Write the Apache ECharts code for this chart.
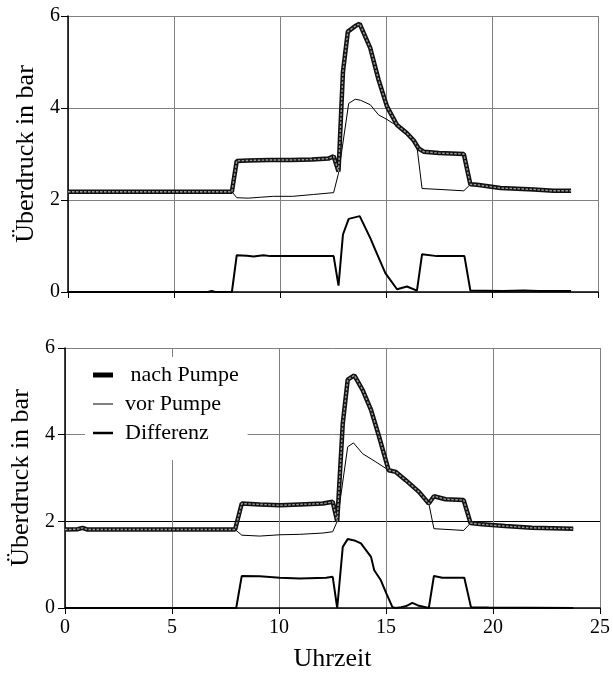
<!DOCTYPE html>
<html>
<head>
<meta charset="utf-8">
<script src="https://cdn.jsdelivr.net/npm/echarts@6/dist/echarts.min.js"></script>
<style>html,body{margin:0;padding:0;background:#fff}#c{width:613px;height:673px}</style>
</head>
<body>
<div id="c"></div>
<script>
// ---- data (time in h, pressure in bar) ----
const xTicks = [0, 5, 10, 15, 20, 25];
const yTicks = [0, 2, 4, 6];
const seriesNames = ['nach Pumpe', 'vor Pumpe', 'Differenz'];

const topNach = [[0,2.18],[7.73,2.18],[7.96,2.85],[8.5,2.86],[9.5,2.87],[10.5,2.87],[11.5,2.88],[12.28,2.9],[12.53,2.95],[12.76,2.62],[12.97,4.79],[13.2,5.66],[13.55,5.78],[13.76,5.83],[14.26,5.3],[14.65,4.61],[15.05,4.03],[15.52,3.63],[15.99,3.45],[16.3,3.3],[16.54,3.12],[16.78,3.05],[17.5,3.02],[18.67,3.0],[18.98,2.34],[19.3,2.33],[20.4,2.26],[21.97,2.23],[22.9,2.2],[23.73,2.2]];
const topVor = [[0,2.18],[7.73,2.18],[7.96,2.05],[8.5,2.04],[9.07,2.06],[9.7,2.08],[10.6,2.08],[11.58,2.12],[12.53,2.16],[12.76,2.58],[13.24,4.1],[13.55,4.19],[13.79,4.17],[14.26,4.07],[14.65,3.85],[15.05,3.75],[15.52,3.61],[15.99,3.45],[16.46,3.16],[16.7,2.25],[17.5,2.23],[18.67,2.2],[18.98,2.34],[19.3,2.33],[20.4,2.26],[21.97,2.23],[22.9,2.2],[23.73,2.2]];
const topDiff = [[0,0],[6.6,0],[6.78,0.02],[6.95,0],[7.73,0],[7.96,0.8],[8.44,0.79],[8.75,0.77],[9.22,0.8],[9.54,0.78],[12.53,0.78],[12.76,0.14],[12.97,1.25],[13.24,1.59],[13.76,1.65],[14.26,1.17],[14.5,0.91],[14.97,0.41],[15.52,0.06],[15.99,0.12],[16.46,0.03],[16.7,0.82],[17.4,0.78],[18.7,0.78],[18.98,0.03],[20.5,0.02],[21.5,0.03],[22.2,0.02],[23.73,0.02]];

const botNach = [[0,1.81],[0.6,1.82],[0.82,1.85],[1.05,1.81],[7.95,1.81],[8.26,2.41],[9.1,2.39],[10.04,2.37],[10.97,2.39],[12.05,2.41],[12.51,2.45],[12.72,2.0],[12.98,4.26],[13.21,5.27],[13.52,5.37],[13.91,5.03],[14.3,4.57],[14.68,3.95],[15.12,3.18],[15.46,3.14],[15.92,2.95],[16.54,2.68],[17.0,2.41],[17.24,2.58],[17.78,2.51],[18.63,2.49],[18.95,1.96],[19.48,1.93],[20.57,1.89],[21.81,1.85],[23.75,1.83]];
const botVor = [[0,1.81],[0.6,1.82],[0.82,1.85],[1.05,1.81],[7.95,1.81],[8.26,1.68],[9.1,1.66],[10.04,1.69],[10.97,1.7],[12.05,1.73],[12.51,1.76],[12.72,2.0],[13.21,3.72],[13.48,3.81],[13.91,3.56],[14.53,3.37],[15.12,3.18],[15.46,3.14],[15.92,2.95],[16.54,2.68],[17.0,2.41],[17.24,1.83],[18.63,1.79],[18.95,1.96],[19.48,1.93],[20.57,1.89],[21.81,1.85],[23.75,1.83]];
const botDiff = [[0,0],[8.0,0],[8.26,0.74],[9.1,0.73],[10.04,0.7],[10.97,0.68],[12.2,0.7],[12.51,0.72],[12.72,0],[12.98,1.41],[13.21,1.59],[13.52,1.56],[13.83,1.49],[14.3,1.18],[14.45,0.87],[14.76,0.64],[15.02,0.33],[15.3,0.02],[15.46,0],[15.7,0.02],[15.92,0.04],[16.23,0.12],[16.54,0.05],[17.0,0],[17.24,0.74],[17.63,0.7],[18.66,0.7],[18.97,0.02],[19.8,0.01],[23.75,0]];

const FONT = "'Liberation Serif', 'Times New Roman', serif";
const GRIDC = '#808080';

function xAxisCfg(idx, showLabels) {
  return {
    type: 'value', gridIndex: idx, min: xTicks[0], max: xTicks[xTicks.length-1], interval: 5,
    axisLine: { show: true, onZero: false, lineStyle: { color: '#000', width: 1.5 } },
    axisTick: { show: true, inside: false, length: 6, lineStyle: { color: '#000' } },
    axisLabel: { show: showLabels, margin: 10, color: '#000', fontFamily: FONT, fontSize: 20 },
    splitLine: { show: true, lineStyle: { color: GRIDC, width: 1 } },
    name: showLabels ? 'Uhrzeit' : '', nameLocation: 'middle', nameGap: 38,
    nameTextStyle: { color: '#000', fontFamily: FONT, fontSize: 26 }
  };
}
function yAxisCfg(idx, margin, splitColors) {
  return {
    type: 'value', gridIndex: idx, min: yTicks[0], max: yTicks[yTicks.length-1], interval: 2,
    axisLine: { show: true, lineStyle: { color: '#000', width: 1.5 } },
    axisTick: { show: true, inside: false, length: 7, lineStyle: { color: '#000' } },
    axisLabel: { margin: margin, color: '#000', fontFamily: FONT, fontSize: 20 },
    splitLine: { show: true, lineStyle: { color: splitColors, width: 1 } },
    name: 'Überdruck in bar', nameLocation: 'middle', nameGap: 25,
    nameTextStyle: { color: '#000', fontFamily: FONT, fontSize: 26 }
  };
}
function mk(name, data, idx, width, color, extra) {
  return Object.assign({ name: name, type: 'line', xAxisIndex: idx, yAxisIndex: idx, data: data,
    symbol: 'none', animation: false, lineStyle: { width: width, color: color },
    itemStyle: { color: color }, z: 3 }, extra || {});
}
function texture(name, data, idx) {
  // light dashed core giving the thick line its dotted look
  return mk(name, data, idx, 1.4, '#9a9a9a', { lineStyle: { width: 1.4, color: '#9a9a9a', type: [2.5, 1.5] }, z: 4, silent: true });
}

const chart = echarts.init(document.getElementById('c'));
chart.setOption({
  animation: false,
  backgroundColor: '#fff',
  grid: [
    { left: 68, right: 15, top: 16, height: 276 },
    { left: 65, right: 11, top: 348, height: 260 }
  ],
  xAxis: [xAxisCfg(0, false), xAxisCfg(1, true)],
  yAxis: [yAxisCfg(0, 8, [GRIDC]), yAxisCfg(1, 10, [GRIDC, '#000', GRIDC, GRIDC])],
  legend: {
    data: [
      { name: seriesNames[0], icon: 'path://M0,0h40v10h-40z', itemStyle: { color: '#000' } },
      { name: seriesNames[1], icon: 'path://M0,0h40v2h-40z', itemStyle: { color: '#000' } },
      { name: seriesNames[2], icon: 'path://M0,0h40v5h-40z', itemStyle: { color: '#000' } }
    ],
    orient: 'vertical', left: 85, top: 357,
    backgroundColor: '#fff', padding: [7, 9, 16, 8],
    itemWidth: 20, itemHeight: 14, itemGap: 7,
    formatter: n => n === 'nach Pumpe' ? ' ' + n : n,
    textStyle: { color: '#000', fontFamily: FONT, fontSize: 22, lineHeight: 22, padding: [0, 0, 0, 7] },
    selectedMode: false
  },
  series: [
    mk(seriesNames[2], topDiff, 0, 2, '#000'),
    mk(seriesNames[1], topVor, 0, 1, '#000'),
    mk(seriesNames[0], topNach, 0, 4.5, '#111'),
    texture(seriesNames[0], topNach, 0),
    mk(seriesNames[2], botDiff, 1, 2, '#000'),
    mk(seriesNames[1], botVor, 1, 1, '#000'),
    mk(seriesNames[0], botNach, 1, 4.5, '#111'),
    texture(seriesNames[0], botNach, 1)
  ]
});
</script>
</body>
</html>
